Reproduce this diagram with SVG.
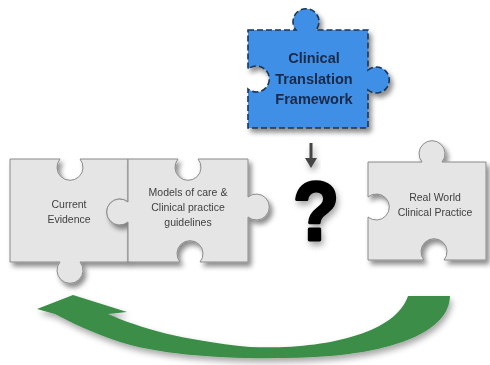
<svg xmlns="http://www.w3.org/2000/svg" width="490" height="365" viewBox="0 0 490 365">
  <defs>
    <filter id="shadow" x="-20%" y="-20%" width="150%" height="150%">
      <feDropShadow dx="3" dy="4" stdDeviation="2.5" flood-color="#000" flood-opacity="0.45"/>
    </filter>
    <filter id="softShadow" x="-20%" y="-20%" width="150%" height="150%">
      <feDropShadow dx="2" dy="4" stdDeviation="3" flood-color="#000" flood-opacity="0.35"/>
    </filter>
  </defs>
  <style>
    .piece { fill: #e5e5e5; stroke: #8a8a8a; stroke-width: 1; }
    .blue { fill: #3f8fe6; stroke: #1c3556; stroke-width: 1.6; stroke-dasharray: 6 3; }
    .label { font-family: "Liberation Sans", Arial, sans-serif; font-size: 10.5px; fill: #3f3f3f; text-anchor: middle; }
    .blueLabel { font-family: "Liberation Sans", Arial, sans-serif; font-size: 14.5px; font-weight: bold; fill: #1a2a48; text-anchor: middle; }
  </style>

  <rect width="490" height="365" fill="#ffffff"/>

  <!-- Clinical Translation Framework piece -->
  <g id="framework" filter="url(#shadow)">
    <path class="blue" d="M248,30 H296 A13,13 0 1 1 316,30 H368 V70 A13,13 0 1 1 368,90 V128 H248 V89 A13,13 0 1 0 248,69 Z"/>
    <text class="blueLabel" x="314" y="63">Clinical</text>
    <text class="blueLabel" x="314" y="84">Translation</text>
    <text class="blueLabel" x="314" y="104">Framework</text>
  </g>

  <!-- Current Evidence piece -->
  <g id="evidence" filter="url(#shadow)">
    <path class="piece" d="M10,159 H60 A13,13 0 1 0 80,159 H128 V202 A13,13 0 1 0 128,222 V262 H80 A13,13 0 1 1 60,262 H10 Z"/>
    <text class="label" x="69" y="208">Current</text>
    <text class="label" x="69" y="223">Evidence</text>
  </g>

  <!-- Models of care piece -->
  <g id="models" filter="url(#shadow)">
    <path class="piece" d="M128,159 H178 A13,13 0 1 0 198,159 H248 V197 A13,13 0 1 1 248,217 V262 H200 A13,13 0 1 0 180,262 H128 V222 A13,13 0 1 1 128,202 Z"/>
    <text class="label" x="188" y="196">Models of care &amp;</text>
    <text class="label" x="188" y="211">Clinical practice</text>
    <text class="label" x="188" y="226">guidelines</text>
  </g>

  <!-- Real World Clinical Practice piece -->
  <g id="practice" filter="url(#shadow)">
    <path class="piece" d="M368,162 H422 A13,13 0 1 1 442,162 H486 V260 H444 A13,13 0 1 0 424,260 H368 V217 A13,13 0 1 0 368,197 Z"/>
    <text class="label" x="435" y="201">Real World</text>
    <text class="label" x="435" y="216">Clinical Practice</text>
  </g>

  <!-- Unknown link -->
  <g id="question" filter="url(#softShadow)">
    <text x="0" y="0" transform="translate(316 240) scale(0.9 1)" font-family="Liberation Sans, Arial, sans-serif" font-size="84" font-weight="bold" fill="#000" stroke="#000" stroke-width="3" stroke-linejoin="round" text-anchor="middle">?</text>
  </g>

  <g id="connectors">
    <!-- small down arrow from framework -->
    <g filter="url(#softShadow)">
      <rect x="309.5" y="143" width="3" height="17" fill="#444"/>
      <polygon points="305,158 317,158 311,168" fill="#444"/>
    </g>
    <!-- curved return arrow -->
    <path filter="url(#softShadow)" fill="#3b8d47" d="M450,296 C449,330 400,350 330,356 C260,361 170,358 120,342 C90,332 70,322 55,314 L37,309 L73,295 L127,312 L108,314 C140,328 180,340 250,347 C320,350 395,335 408,296 Z"/>
  </g>
</svg>
